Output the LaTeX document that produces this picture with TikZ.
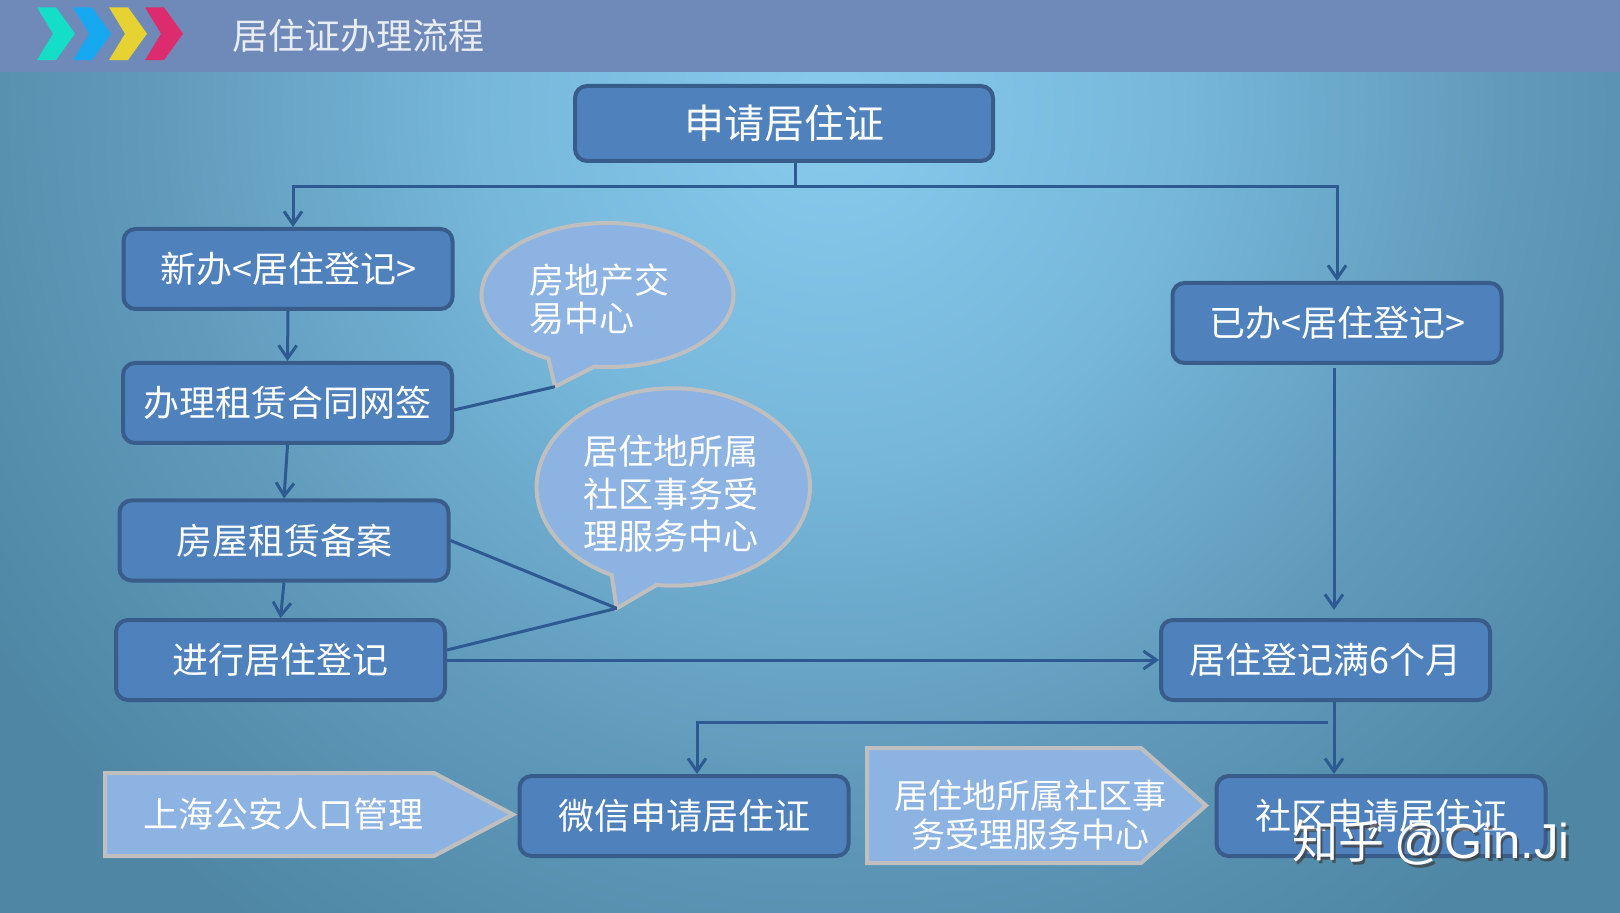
\documentclass[tikz,border=0pt]{standalone}
\usepackage{fontspec}
\newfontfamily\cjk{Noto Sans CJK SC}
\newfontfamily\wmlatin{Liberation Sans}
\usetikzlibrary{arrows.meta,calc}
\definecolor{hdr}{HTML}{6F8AB9}
\definecolor{bgA}{HTML}{88CBED}
\definecolor{bgB}{HTML}{76B7DA}
\definecolor{bgC}{HTML}{5F98B9}
\definecolor{bgD}{HTML}{4E86A4}
\pgfdeclareradialshading{bgshade}{\pgfpoint{0bp}{0bp}}{color(0bp)=(bgA); color(7.3bp)=(bgB); color(14.6bp)=(bgC); color(20.8bp)=(bgD); color(50bp)=(bgD)}
\definecolor{boxfill}{HTML}{4F81BD}
\definecolor{boxline}{HTML}{385D8A}
\definecolor{conncol}{HTML}{2D5A91}
\definecolor{lightfill}{HTML}{8DB3E2}
\definecolor{lightline}{HTML}{BFBFBF}
\definecolor{cyanchev}{HTML}{14DEC8}
\definecolor{bluechev}{HTML}{16A9F2}
\definecolor{yellowchev}{HTML}{E6D232}
\definecolor{pinkchev}{HTML}{DC2C6E}
\definecolor{titlecol}{HTML}{E8ECF3}
\begin{document}
\begin{tikzpicture}[x=0.5pt,y=-0.5pt,
  box/.style={draw=boxline, line width=2pt, fill=boxfill, rounded corners=6pt,
    text=white, font=\cjk\fontsize{18}{22}\selectfont, inner sep=0pt,
    minimum width=164.5pt, minimum height=40pt},
  conn/.style={draw=conncol, line width=1.5pt},
  arr/.style={conn, -{Straight Barb[length=6.5pt,width=9pt,line width=1.5pt]}},
  bubble/.style={draw=lightline, line width=2pt, fill=lightfill, line join=miter},
  lbl/.style={text=white, inner sep=0pt},
]
\useasboundingbox (0,0) rectangle (1620,913);
% background
\fill[bgD] (0,0) rectangle (1620,913);
\begin{scope}
  \clip (0,0) rectangle (1620,913);
  \shade[shading=bgshade] (830,110) circle[radius=1200];
\end{scope}
\fill[hdr] (0,0) rectangle (1620,72.5);
% chevrons
\foreach \xo/\col in {37/cyanchev,73/bluechev,109/yellowchev,145/pinkchev}{
  \fill[\col] (\xo,7.3) -- ++(19,0) -- ++(19,26.4) -- ++(-19,26.4) -- ++(-19,0) -- ++(16,-26.4) -- cycle;
}
\node[lbl, anchor=west, text=titlecol, font=\cjk\fontsize{18}{22}\selectfont] (title) at (232,36) {居住证办理流程};

% boxes
\node[box, minimum width=209pt, minimum height=37.5pt, font=\cjk\fontsize{20}{24}\selectfont] (A) at (784,123.5) {申请居住证};
\node[box] (B) at (288,269) {新办<居住登记>};
\node[box] (C) at (287.5,403) {办理租赁合同网签};
\node[box] (D) at (284,540.5) {房屋租赁备案};
\node[box] (E) at (280.5,660) {进行居住登记};
\node[box] (F) at (1337,323) {已办<居住登记>};
\node[box] (G) at (1325.5,660) {居住登记满6个月};
\node[box] (H) at (684,816) {微信申请居住证};
\node[box] (I) at (1381,816) {社区申请居住证};

% callouts
\coordinate (c1) at (607.5,295);
\coordinate (t1) at (555,386.7);
\draw[bubble] ($(c1)+(-96:63pt and 36pt)$) arc[start angle=-96, end angle=242, x radius=63pt, y radius=36pt] -- (t1) -- cycle;
\node[lbl, align=left, anchor=west, font=\cjk\fontsize{17.5}{19}\selectfont] (q1) at (529,299) {房地产交\\易中心};

\coordinate (c2) at (673.3,487);
\coordinate (t2) at (616.7,608.3);
\draw[bubble] ($(c2)+(-97:68.35pt and 49.35pt)$) arc[start angle=-97, end angle=243.2, x radius=68.35pt, y radius=49.35pt] -- (t2) -- cycle;
\node[lbl, align=center, font=\cjk\fontsize{17.5}{21.25}\selectfont] (q2) at (671,494) {居住地所属\\社区事务受\\理服务中心};

% pentagon arrows
\draw[bubble] (105,773) -- (434,773) -- (513,814.5) -- (434,856) -- (105,856) -- cycle;
\node[lbl, font=\cjk\fontsize{17.5}{21}\selectfont] (p1) at (283,814) {上海公安人口管理};
\draw[bubble] (867,748) -- (1141,748) -- (1206,805.5) -- (1141,863) -- (867,863) -- cycle;
\node[lbl, align=center, font=\cjk\fontsize{17}{19.5}\selectfont] (p2) at (1030,815) {居住地所属社区事\\务受理服务中心};

% connectors
\draw[arr] ([xshift=5.75pt]A.south) -- ++(0,23.5) coordinate (split) -| ([xshift=2.5pt]B.north);
\draw[arr] (split) -| (F.north);
\draw[arr] (B.south) -- (C.north);
\draw[arr] (C.south) -- (D.north);
\draw[arr] (D.south) -- (E.north);
\draw[conn] ([yshift=-3.5pt]C.east) -- (t1);
\draw[conn] (D.east) -- (t2);
\draw[conn] ([yshift=5pt]E.east) -- (t2);
\draw[arr] (E.east) -- (G.west);
\draw[arr] ([xshift=-1.5pt,yshift=-1.5pt]F.south) -- ([xshift=4.25pt,yshift=4pt]G.north);
\draw[arr] ([xshift=4.25pt]G.south) -- ([xshift=-23.5pt]I.north);
\coordinate (br) at ([xshift=1.25pt,yshift=-10pt]G.south);
\draw[arr] (br) -| ([xshift=6.5pt]H.north);

% watermark
\node[lbl, anchor=west, text=black!75, opacity=0.75, font=\cjk\fontsize{23}{23}\selectfont] (wms) at (1294.5,845.5) {知乎 {\wmlatin\fontsize{24.5}{24.5}\selectfont @Gin.Ji}};
\node[lbl, anchor=west, font=\cjk\fontsize{23}{23}\selectfont] (wm) at (1292,843) {知乎 {\wmlatin\fontsize{24.5}{24.5}\selectfont @Gin.Ji}};
\end{tikzpicture}
\end{document}
